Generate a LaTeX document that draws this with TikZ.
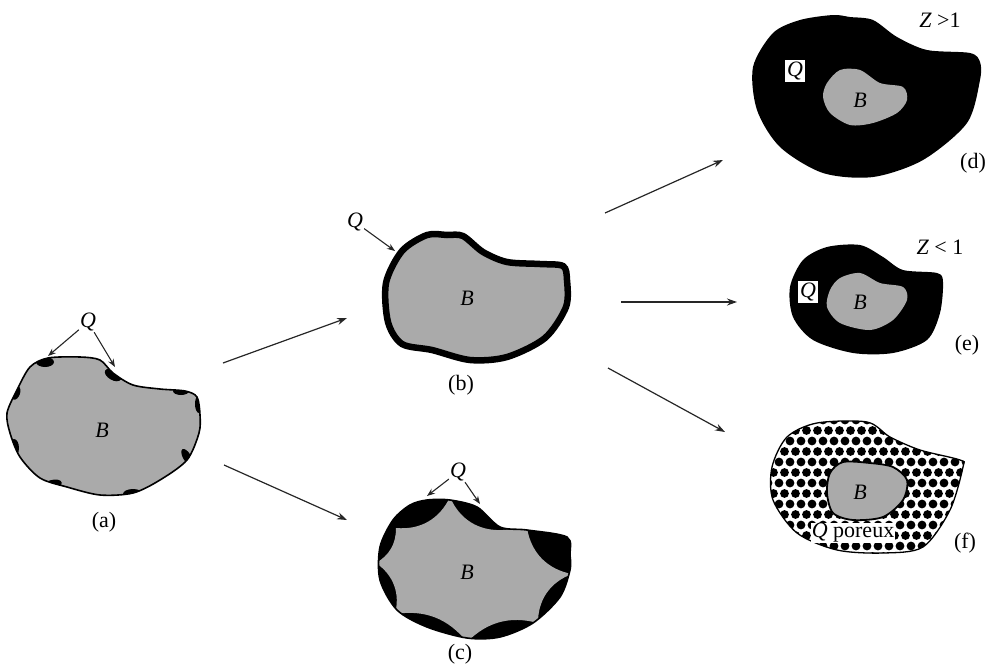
\documentclass[tikz,border=0pt]{standalone}
\usepackage{fontspec}
\setmainfont{Liberation Serif}
\usetikzlibrary{arrows.meta, positioning, calc}
\definecolor{bodygray}{RGB}{170,170,170}
\tikzset{
    base/.style={font=\fontsize{22}{26}\selectfont, inner sep=1pt},
    sym/.style={base, font=\fontsize{22}{26}\selectfont\itshape},
    qbox/.style={sym, fill=white, inner sep=2pt},
    arrow/.style={line width=1.2pt, -{Stealth[length=10pt, width=7pt]}, color=black!85},
    grain/.style={line width=1.1pt, -{Stealth[length=8pt, width=6pt]}, color=black!85},
    outline/.style={draw=black, line width=1.6pt},
}

% particle outlines (pixel units, y pointing down)
\def\shapeA{plot[smooth cycle] coordinates {(7,413) (17,390) (30,367) (48,358) (80,357) (100,360) (113,373) (133,385) (160,389) (185,391) (197,397) (200,415) (199,433) (187,460) (160,480) (133,493) (100,495) (67,487) (40,478) (20,457) (10,433)}}
\def\shapeB{plot[smooth cycle] coordinates {(402,251) (427,235) (447,235) (463,236) (483,252) (507,262) (540,264) (563,266) (567,280) (566,307) (545,338) (507,357) (470,360) (432,350) (402,344) (388,322) (386,283)}}
\def\shapeC{plot[smooth cycle] coordinates {(410,505) (427,500) (450,500) (477,507) (500,527) (527,530) (567,537) (570,555) (570,570) (560,597) (533,623) (500,637) (467,638) (427,627) (397,610) (380,580) (380,547) (393,520)}}
\def\shapeD{plot[smooth cycle] coordinates {(773,33) (800,20) (833,15) (850,17) (873,20) (897,37) (927,50) (970,53) (980,62) (980,80) (967,123) (923,160) (873,177) (823,173) (780,147) (757,110) (753,67)}}
\def\coreD{plot[smooth cycle] coordinates {(823,97) (827,83) (840,70) (860,70) (880,83) (903,87) (907,100) (897,113) (873,123) (850,125) (830,113)}}
\def\shapeE{plot[smooth cycle] coordinates {(803,260) (827,247) (860,245) (883,257) (903,270) (937,273) (943,282) (940,313) (927,340) (893,353) (853,353) (813,340) (793,317) (790,287)}}
\def\coreE{plot[smooth cycle] coordinates {(827,307) (830,290) (840,278) (860,273) (880,283) (903,287) (907,300) (893,320) (870,330) (840,323)}}
\def\shapeF{plot[smooth cycle] coordinates {(787,437) (817,423) (867,422) (890,437) (920,450) (960,460) (963,467) (950,510) (923,547) (883,553) (837,550) (797,533) (773,500) (772,467)}}
\def\coreF{plot[smooth cycle] coordinates {(827,493) (830,473) (843,462) (870,463) (893,467) (907,480) (903,500) (883,517) (853,520) (833,513)}}

\begin{document}
\begin{tikzpicture}[x=1pt, y=-1pt]
    \useasboundingbox (0,0) rectangle (996,670);

    % (a) few surface nuclei
    \fill[bodygray] \shapeA;
    \begin{scope}
        \clip \shapeA;
        \fill (45,362) ellipse [x radius=9, y radius=5];
        \fill (113,375) ellipse [x radius=9, y radius=5, rotate=-30];
        \fill (181,391) ellipse [x radius=8, y radius=4];
        \fill (199,404) ellipse [x radius=4, y radius=9];
        \fill (187,457) ellipse [x radius=4, y radius=9, rotate=30];
        \fill (133,494) ellipse [x radius=10, y radius=5];
        \fill (52,485) ellipse [x radius=10, y radius=5, rotate=15];
        \fill (14,448) ellipse [x radius=5, y radius=9];
        \fill (16,393) ellipse [x radius=4, y radius=7, rotate=-20];
    \end{scope}
    \draw[outline] \shapeA;
    \node[sym] (qA) at (88,322) {Q};
    \node[sym] (bA) at (102,430) {B};
    \node[base] (lblA) at (104,522) {(a)};
    \coordinate (nucA1) at (48,356);
    \coordinate (nucA2) at (115,367);
    \draw[grain] (qA) -- (nucA1);
    \draw[grain] (qA) -- (nucA2);

    % (b) continuous layer
    \fill[bodygray] \shapeB;
    \draw[draw=black, line width=6.5pt] \shapeB;
    \node[sym] (qB) at (355,222) {Q};
    \node[sym] (bB) at (467,298) {B};
    \node[base] (lblB) at (461,385) {(b)};
    \coordinate (layerB) at (395,251);
    \draw[grain] (qB) -- (layerB);

    % (c) growing islands
    \fill[black] \shapeC;
    \begin{scope}
        \clip \shapeC;
        \fill[bodygray] (450,497) to[bend right=35] (503,530) -- (527,528) to[bend right=35] (572,574)
            to[bend right=35] (538,623) to[bend right=30] (467,642) to[bend right=30] (395,614)
            to[bend right=35] (376,563) to[bend right=30] (396,528) to[bend right=35] (450,497) -- cycle;
    \end{scope}
    \draw[outline] \shapeC;
    \node[sym] (qC) at (458,472) {Q};
    \node[sym] (bC) at (467,572) {B};
    \node[base] (lblC) at (460,654) {(c)};
    \coordinate (nucC1) at (427,496);
    \coordinate (nucC2) at (480,504);
    \draw[grain] (qC) -- (nucC1);
    \draw[grain] (qC) -- (nucC2);

    % (d) thick dense shell
    \fill[black] \shapeD;
    \fill[bodygray] \coreD;
    \node[qbox] (qD) at (795,71) {Q};
    \node[sym] (bD) at (860,100) {B};
    \node[base] (zD) at (940,20) {{\itshape Z} >1};
    \node[base] (lblD) at (973,163) {(d)};

    % (e) thin dense shell
    \fill[black] \shapeE;
    \fill[bodygray] \coreE;
    \node[qbox] (qE) at (808,292) {Q};
    \node[sym] (bE) at (860,302) {B};
    \node[base] (zE) at (940,247) {{\itshape Z} < 1};
    \node[base] (lblE) at (967,345) {(e)};

    % (f) porous shell
    \fill[white] \shapeF;
    \begin{scope}
        \clip \shapeF;
        \foreach \row in {0,...,13}
            \foreach \col in {0,...,18}
                \fill ({768+11*\col+5.5*mod(\row,2)}, {420+10.5*\row}) circle (4.4);
    \end{scope}
    \draw[line width=1.3pt] \shapeF;
    \node[base, fill=white, inner sep=0.5pt] (qF) at (853,533) {\textit{Q} poreux};
    \fill[bodygray] \coreF;
    \draw[line width=1.8pt] \coreF;
    \node[sym] (bF) at (860,492) {B};
    \node[base] (lblF) at (965,543) {(f)};

    % growth paths
    \coordinate (aOut1) at (223,363);
    \coordinate (aOut2) at (224,465);
    \coordinate (bIn) at (347,318);
    \coordinate (cIn) at (347,520);
    \coordinate (bOut1) at (605,213);
    \coordinate (bOut2) at (621,302);
    \coordinate (bOut3) at (608,368);
    \coordinate (dIn) at (723,160);
    \coordinate (eIn) at (737,302);
    \coordinate (fIn) at (725,432);
    \draw[arrow] (aOut1) -- (bIn);
    \draw[arrow] (aOut2) -- (cIn);
    \draw[arrow] (bOut1) -- (dIn);
    \draw[arrow] (bOut2) -- (eIn);
    \draw[arrow] (bOut3) -- (fIn);
\end{tikzpicture}
\end{document}
